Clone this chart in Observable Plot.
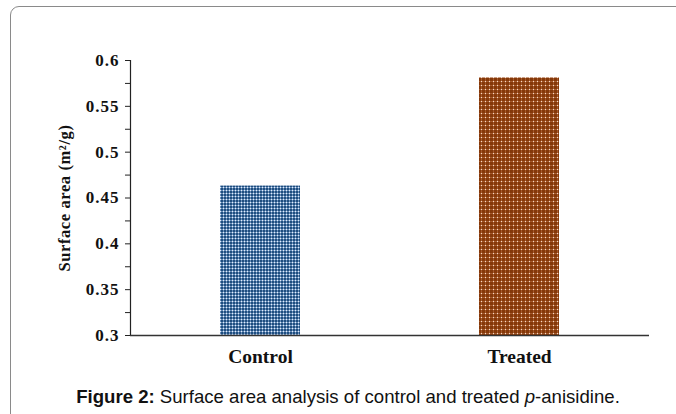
<!DOCTYPE html>
<html>
<head>
<meta charset="utf-8">
<script src="https://cdn.jsdelivr.net/npm/d3@7"></script>
<script src="https://cdn.jsdelivr.net/npm/@observablehq/plot@0.6"></script>
<style>
  html, body { margin: 0; padding: 0; background: #fff; }
  #wrap { position: relative; width: 676px; height: 414px; overflow: hidden; background: #fff; }
  #border { position: absolute; left: 10px; top: 6px; width: 700px; height: 440px; border: 1.5px solid #8a8a8a; border-radius: 9px; box-sizing: border-box; }
  #chart { position: absolute; left: 0; top: 0; }
  #caption { position: absolute; left: 10px; width: 676px; top: 386px; text-align: center; font-family: "Liberation Sans", Arial, sans-serif; font-size: 18.6px; color: #111; }
  #chart svg text { font-family: "Liberation Serif", "Times New Roman", serif; font-weight: bold; fill: #111; }
  #chart g[aria-label="y-axis tick label"] { font-size: 17px; letter-spacing: 1px; }
  #chart g[aria-label="x-axis tick label"] { font-size: 19.5px; }
  #chart g[aria-label="y-axis label"] { font-size: 16.5px; letter-spacing: 0.6px; }
</style>
</head>
<body>
<div id="wrap">
  <div id="border"></div>
  <div id="chart"></div>
  <div id="caption"><b>Figure 2:</b> Surface area analysis of control and treated <i>p</i>-anisidine.</div>
</div>
<script>
const categories = ["Control", "Treated"];
const values = [0.463, 0.581];
const yTicks = [0.3, 0.35, 0.4, 0.45, 0.5, 0.55, 0.6];
const yMinorTicks = [0.325, 0.375, 0.425, 0.475, 0.525, 0.575];
const fills = ["url(#pBlue)", "url(#pBrown)"];

const data = categories.map((c, i) => ({category: c, value: values[i]}));

const chart = Plot.plot({
  width: 676,
  height: 375,
  marginLeft: 130,
  marginRight: 27,
  marginTop: 60,
  marginBottom: 40,
  style: {background: "transparent", overflow: "visible"},
  x: {domain: categories, paddingInner: 0.69, paddingOuter: 0.345, label: null},
  y: {domain: [0.3, 0.6], label: null},
  color: {domain: categories, range: fills},
  marks: [
    Plot.barY(data, {x: "category", y1: 0.3, y2: "value", fill: "category"}),
    Plot.axisY({ticks: yMinorTicks, tickSize: 5, text: null, stroke: "#222"}),
    Plot.axisY({ticks: yTicks, tickSize: 5, tickPadding: 6, tickFormat: d => String(d), stroke: "#222"}),
    Plot.axisY({ticks: [], label: "Surface area (m²/g)", labelAnchor: "center", labelArrow: "none", labelOffset: 72}),
    Plot.axisX({tickSize: 0, tickPadding: 14, label: null}),
    Plot.frame({anchor: "left", stroke: "#222", strokeWidth: 1.2}),
    Plot.ruleY([0.3], {stroke: "#333", strokeWidth: 1.5})
  ]
});

const ns = "http://www.w3.org/2000/svg";
const defs = document.createElementNS(ns, "defs");
defs.innerHTML = `
  <pattern id="pBlue" patternUnits="userSpaceOnUse" width="3" height="3">
    <rect width="3" height="3" fill="#1f4d7e"/>
    <rect x="0" y="1" width="3" height="1" fill="#6a90bd"/>
    <rect x="1" y="0" width="1" height="3" fill="#6a90bd"/>
    <rect x="1" y="1" width="1" height="1" fill="#e6eef8"/>
  </pattern>
  <pattern id="pBrown" patternUnits="userSpaceOnUse" width="4" height="4">
    <rect width="4" height="4" fill="#843809"/>
    <rect x="0" y="1" width="4" height="1" fill="#a6592c"/>
    <rect x="1" y="0" width="1" height="4" fill="#a6592c"/>
    <rect x="1" y="1" width="1" height="1" fill="#f3dcc8"/>
  </pattern>`;
chart.insertBefore(defs, chart.firstChild);
document.getElementById("chart").appendChild(chart);
</script>
</body>
</html>
